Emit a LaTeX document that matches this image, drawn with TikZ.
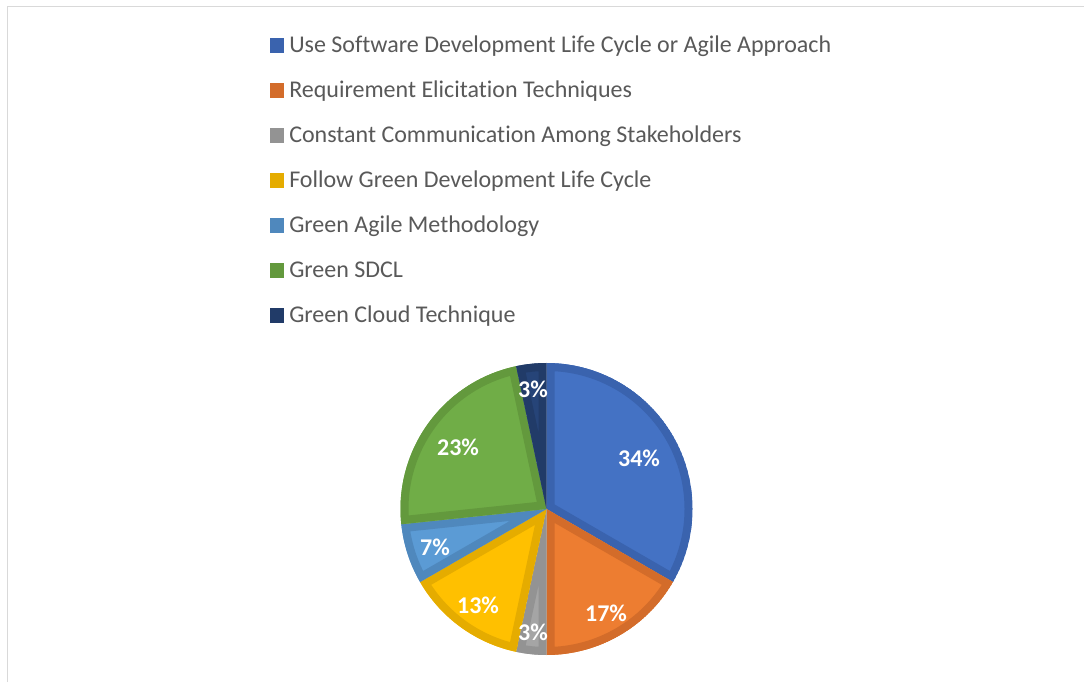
\documentclass[tikz,border=0pt]{standalone}
\usepackage{fontspec}
\setmainfont{Carlito}[Ligatures=NoCommon]
\definecolor{cBlue}{HTML}{4472C4}\definecolor{bBlue}{HTML}{3A63AE}
\definecolor{cOrange}{HTML}{ED7D31}\definecolor{bOrange}{HTML}{D36C2A}
\definecolor{cGray}{HTML}{A5A5A5}\definecolor{bGray}{HTML}{939393}
\definecolor{cYellow}{HTML}{FFC000}\definecolor{bYellow}{HTML}{E5AC00}
\definecolor{cLBlue}{HTML}{5B9BD5}\definecolor{bLBlue}{HTML}{4F88BD}
\definecolor{cGreen}{HTML}{70AD47}\definecolor{bGreen}{HTML}{63993D}
\definecolor{cNavy}{HTML}{264478}\definecolor{bNavy}{HTML}{213B68}
\definecolor{txtgray}{HTML}{595959}
\definecolor{framegray}{HTML}{D9D9D9}
\tikzset{
  legtext/.style={anchor=base west, inner sep=0pt, text=txtgray, font=\fontsize{18}{21}\selectfont},
  pctlabel/.style={inner sep=0pt, text=white, font=\fontsize{18}{21}\selectfont\bfseries},
}
\begin{document}
\begin{tikzpicture}[x=0.75pt,y=0.75pt]
\useasboundingbox (0,0) rectangle (1084,682);
\fill[white] (0,0) rectangle (1084,682);
% frame
\draw[framegray, line width=1.2pt] (7.5,0) -- (7.5,675.5) -- (1084,675.5);
% legend
\foreach \i/\col/\txt in {0/bBlue/Use Software Development Life Cycle or Agile Approach,
  1/bOrange/Requirement Elicitation Techniques,
  2/bGray/Constant Communication Among Stakeholders,
  3/bYellow/Follow Green Development Life Cycle,
  4/bLBlue/Green Agile Methodology,
  5/bGreen/Green SDCL,
  6/bNavy/Green Cloud Technique}{
  \fill[\col] (269.5,{682-38-45*\i}) rectangle (283.5,{682-53-45*\i});
  \node[legtext] (leg\i) at (289,{682-52.3-45*\i}) {\txt};
}
% pie
\coordinate (c) at (546.5,173);
\foreach \a/\b/\fc/\bc in {90/-30/cBlue/bBlue, -30/-90/cOrange/bOrange, -90/-102/cGray/bGray,
  -102/-150/cYellow/bYellow, -150/-174/cLBlue/bLBlue, -174/-258/cGreen/bGreen, -258/-270/cNavy/bNavy}{
  \begin{scope}
    \clip (c) -- ++(\a:146) arc[start angle=\a, end angle=\b, radius=146] -- cycle;
    \fill[\fc] (c) -- ++(\a:146) arc[start angle=\a, end angle=\b, radius=146] -- cycle;
    \draw[\bc, line width=12pt] (c) -- ++(\a:146) arc[start angle=\a, end angle=\b, radius=146] -- cycle;
  \end{scope}
}
\node[pctlabel] (p1) at (639,{682-458}) {34\%};
\node[pctlabel] (p2) at (606,{682-613}) {17\%};
\node[pctlabel] (p3) at (533,{682-632}) {3\%};
\node[pctlabel] (p4) at (478,{682-605}) {13\%};
\node[pctlabel] (p5) at (435,{682-547}) {7\%};
\node[pctlabel] (p6) at (458,{682-447}) {23\%};
\node[pctlabel] (p7) at (533,{682-389}) {3\%};
\end{tikzpicture}
\end{document}
